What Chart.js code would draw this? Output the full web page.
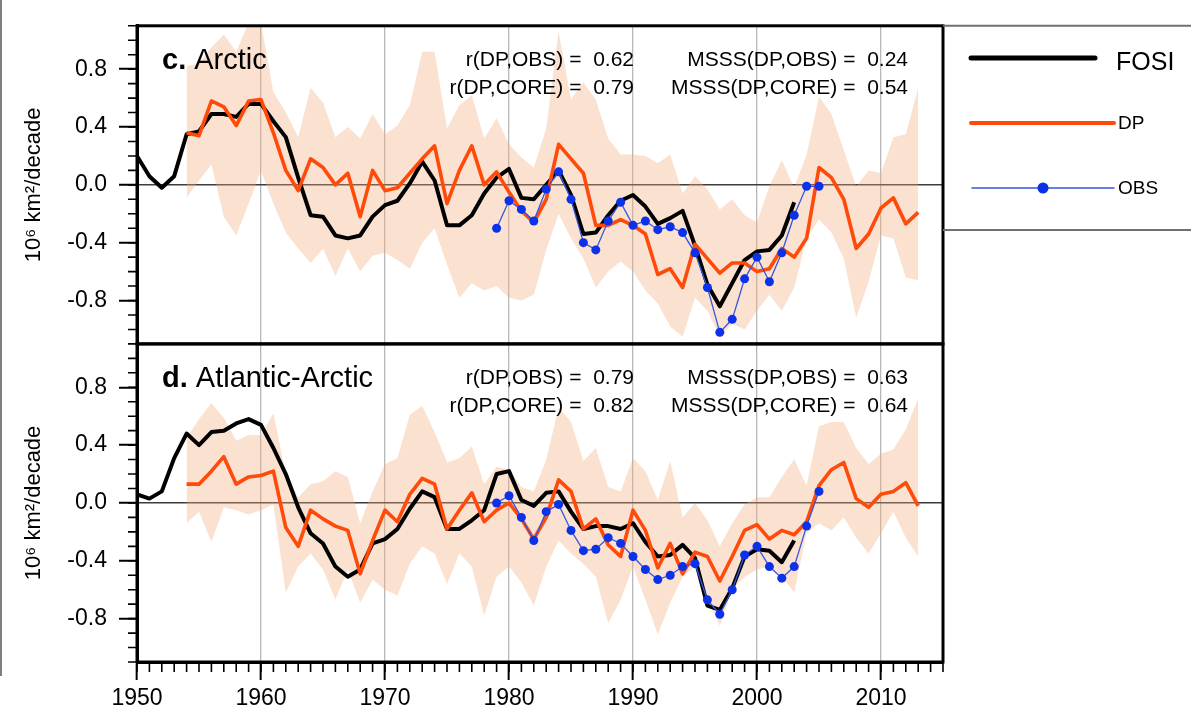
<!DOCTYPE html>
<html lang="en">
	<head>
		<meta charset="UTF-8" />
		<title>Arctic sea ice trends: FOSI, DP, OBS</title>
		<script src="https://cdn.jsdelivr.net/npm/chart.js"></script>
		<style>
			html,
			body {
				margin: 0;
				padding: 0;
				background: #fff;
			}
			#wrap {
				position: relative;
				width: 1191px;
				height: 719px;
			}
		</style>
	</head>
	<body>
		<div id="wrap"><canvas id="myChart" width="1191" height="719"></canvas></div>

		<script>
			// years 1950 .. 2013, every series below is aligned on this list
			const years = [
				1950, 1951, 1952, 1953, 1954, 1955, 1956, 1957, 1958, 1959, 1960, 1961, 1962, 1963, 1964, 1965,
				1966, 1967, 1968, 1969, 1970, 1971, 1972, 1973, 1974, 1975, 1976, 1977, 1978, 1979, 1980, 1981,
				1982, 1983, 1984, 1985, 1986, 1987, 1988, 1989, 1990, 1991, 1992, 1993, 1994, 1995, 1996, 1997,
				1998, 1999, 2000, 2001, 2002, 2003, 2004, 2005, 2006, 2007, 2008, 2009, 2010, 2011, 2012, 2013,
			];
			const xTicks = [1950, 1960, 1970, 1980, 1990, 2000, 2010];
			const yTicks = [-0.8, -0.4, 0, 0.4, 0.8];
			const seriesNames = ["FOSI", "DP", "OBS"];

			// c. Arctic
			const arcticFOSI = [
				0.2, 0.06, -0.02, 0.06, 0.35, 0.37, 0.49, 0.49, 0.47, 0.56, 0.56, 0.44, 0.33, 0.05, -0.21, -0.22,
				-0.35, -0.37, -0.35, -0.22, -0.14, -0.11, 0.01, 0.16, 0.03, -0.28, -0.28, -0.21, -0.06, 0.05, 0.11, -0.09,
				-0.1, 0.0, 0.1, -0.07, -0.34, -0.33, -0.21, -0.11, -0.07, -0.15, -0.27, -0.23, -0.18, -0.42, -0.69, -0.84,
				-0.68, -0.52, -0.46, -0.45, -0.35, -0.12, null, null, null, null, null, null, null, null, null, null,
			];
			const arcticDP = [
				null, null, null, null, 0.36, 0.34, 0.58, 0.54, 0.41, 0.58, 0.59, 0.36, 0.1, -0.04, 0.18, 0.12,
				0.0, 0.08, -0.22, 0.1, -0.04, -0.02, 0.08, 0.18, 0.27, -0.13, 0.1, 0.27, 0.0, 0.09, -0.05, -0.18,
				-0.26, -0.1, 0.28, 0.18, 0.08, -0.28, -0.28, -0.24, -0.28, -0.34, -0.62, -0.58, -0.71, -0.41, -0.51, -0.61,
				-0.54, -0.54, -0.6, -0.58, -0.44, -0.5, -0.37, 0.12, 0.05, -0.1, -0.44, -0.34, -0.16, -0.09, -0.27, -0.19,
			];
			const arcticOBS = [
				null, null, null, null, null, null, null, null, null, null, null, null, null, null, null, null,
				null, null, null, null, null, null, null, null, null, null, null, null, null, -0.3, -0.11, -0.17,
				-0.25, -0.03, 0.09, -0.1, -0.4, -0.45, -0.25, -0.12, -0.28, -0.25, -0.31, -0.29, -0.33, -0.47, -0.71, -1.02,
				-0.93, -0.65, -0.5, -0.67, -0.47, -0.21, -0.01, -0.01, null, null, null, null, null, null, null, null,
			];
			const arcticSpreadLow = [
				null, null, null, null, -0.09, 0.03, 0.14, -0.22, -0.35, -0.13, 0.1, -0.13, -0.33, -0.44, -0.54, -0.44,
				-0.63, -0.44, -0.6, -0.49, -0.47, -0.52, -0.58, -0.4, -0.3, -0.55, -0.78, -0.68, -0.73, -0.7, -0.78, -0.8,
				-0.76, -0.45, -0.2, -0.37, -0.51, -0.71, -0.6, -0.53, -0.6, -0.73, -0.82, -0.98, -1.05, -0.78, -0.87, -1.05,
				-0.96, -1.0, -0.87, -0.76, -0.87, -0.71, -0.37, -0.24, -0.33, -0.51, -0.92, -0.67, -0.35, -0.37, -0.64, -0.66,
			];
			const arcticSpreadHigh = [
				null, null, null, null, 0.82, 0.84, 0.95, 1.04, 0.92, 1.12, 1.12, 0.64, 0.5, 0.33, 0.67, 0.57,
				0.33, 0.4, 0.32, 0.49, 0.35, 0.41, 0.55, 0.92, 0.92, 0.39, 0.55, 0.62, 0.32, 0.46, 0.28, 0.19,
				0.12, 0.39, 1.06, 0.59, 0.71, 0.59, 0.32, 0.21, 0.21, 0.2, 0.15, 0.21, -0.06, 0.06, -0.03, -0.17,
				-0.1, -0.21, -0.26, -0.01, 0.17, -0.02, 0.21, 0.61, 0.49, 0.24, -0.01, 0.1, 0.08, 0.33, 0.35, 0.67,
			];

			// d. Atlantic-Arctic
			const atlanticFOSI = [
				0.06, 0.03, 0.08, 0.31, 0.48, 0.4, 0.49, 0.5, 0.55, 0.58, 0.54, 0.38, 0.2, -0.03, -0.21, -0.28,
				-0.44, -0.51, -0.46, -0.28, -0.25, -0.18, -0.04, 0.08, 0.04, -0.18, -0.18, -0.12, -0.05, 0.2, 0.22, 0.02,
				-0.02, 0.07, 0.08, -0.06, -0.18, -0.16, -0.16, -0.18, -0.14, -0.27, -0.37, -0.36, -0.29, -0.38, -0.71, -0.74,
				-0.59, -0.37, -0.32, -0.33, -0.41, -0.26, null, null, null, null, null, null, null, null, null, null,
			];
			const atlanticDP = [
				null, null, null, null, 0.13, 0.13, 0.22, 0.32, 0.13, 0.18, 0.19, 0.22, -0.17, -0.3, -0.05, -0.11,
				-0.16, -0.19, -0.49, -0.26, -0.05, -0.13, 0.06, 0.17, 0.13, -0.18, -0.05, 0.07, -0.13, -0.05, 0.0, -0.11,
				-0.25, -0.1, 0.16, 0.08, -0.18, -0.11, -0.29, -0.37, -0.05, -0.19, -0.45, -0.28, -0.49, -0.34, -0.37, -0.54,
				-0.37, -0.19, -0.15, -0.25, -0.19, -0.22, -0.13, 0.12, 0.23, 0.28, 0.03, -0.03, 0.06, 0.08, 0.14, -0.02,
			];
			const atlanticOBS = [
				null, null, null, null, null, null, null, null, null, null, null, null, null, null, null, null,
				null, null, null, null, null, null, null, null, null, null, null, null, null, 0.0, 0.05, -0.1,
				-0.26, -0.06, -0.01, -0.19, -0.33, -0.32, -0.24, -0.28, -0.37, -0.46, -0.53, -0.5, -0.44, -0.42, -0.67, -0.77,
				-0.6, -0.36, -0.3, -0.44, -0.52, -0.44, -0.16, 0.08, null, null, null, null, null, null, null, null,
			];
			const atlanticSpreadLow = [
				null, null, null, null, -0.14, -0.06, -0.27, -0.03, -0.05, -0.08, -0.05, -0.01, -0.62, -0.44, -0.35, -0.46,
				-0.67, -0.46, -0.69, -0.53, -0.6, -0.64, -0.42, -0.3, -0.35, -0.56, -0.35, -0.44, -0.78, -0.51, -0.44, -0.55,
				-0.71, -0.44, -0.26, -0.35, -0.42, -0.51, -0.83, -0.67, -0.44, -0.67, -0.91, -0.69, -0.51, -0.44, -0.67, -0.85,
				-0.6, -0.51, -0.46, -0.44, -0.51, -0.62, -0.21, -0.14, -0.19, -0.1, -0.24, -0.35, -0.21, -0.06, -0.24, -0.37,
			];
			const atlanticSpreadHigh = [
				null, null, null, null, 0.45, 0.58, 0.69, 0.59, 0.43, 0.47, 0.47, 0.62, 0.2, 0.04, 0.13, 0.15,
				0.22, 0.18, -0.14, 0.08, 0.27, 0.31, 0.61, 0.67, 0.49, 0.28, 0.31, 0.39, 0.13, 0.25, 0.23, 0.11,
				0.08, 0.3, 0.66, 0.56, 0.29, 0.38, 0.11, 0.08, 0.31, 0.22, 0.02, 0.29, -0.1, 0.0, -0.12, -0.3,
				-0.14, -0.01, 0.04, 0.04, 0.18, 0.3, 0.12, 0.53, 0.56, 0.56, 0.38, 0.27, 0.34, 0.37, 0.51, 0.72,
			];

			const panelTitles = [
				["c.", " Arctic"],
				["d.", " Atlantic-Arctic"],
			];
			const corrLabels = [
				["r(DP,OBS) =  0.62", "r(DP,CORE) =  0.79"],
				["r(DP,OBS) =  0.79", "r(DP,CORE) =  0.82"],
			];
			const msssLabels = [
				["MSSS(DP,OBS) =  0.24", "MSSS(DP,CORE) =  0.54"],
				["MSSS(DP,OBS) =  0.63", "MSSS(DP,CORE) =  0.64"],
			];

			const FONT = '"Liberation Sans", Arial, Helvetica, sans-serif';
			const SHADE = "rgba(240, 170, 120, 0.35)";
			const DP_COLOR = "#ff4a0a";
			const OBS_LINE = "#3456e0";
			const OBS_DOT = "#0b32e8";

			Chart.defaults.font.family = FONT;
			Chart.defaults.color = "#000";

			function pts(values) {
				return years.map((yr, i) => ({ x: yr, y: values[i] }));
			}

			function panelDatasets(axis, fosi, dp, obs, low, high) {
				return [
					{ label: "low", data: pts(low), yAxisID: axis, borderWidth: 0, pointRadius: 0, fill: false, order: 10 },
					{ label: "spread", data: pts(high), yAxisID: axis, borderWidth: 0, pointRadius: 0, fill: "-1", backgroundColor: SHADE, order: 9 },
					{ label: seriesNames[0], data: pts(fosi), yAxisID: axis, borderColor: "#000", borderWidth: 4, pointRadius: 0, borderJoinStyle: "round", fill: false, order: 3 },
					{ label: seriesNames[1], data: pts(dp), yAxisID: axis, borderColor: DP_COLOR, borderWidth: 3.6, pointRadius: 0, borderJoinStyle: "round", fill: false, order: 2 },
					{
						label: seriesNames[2], data: pts(obs), yAxisID: axis, borderColor: OBS_LINE, borderWidth: 1.3,
						pointRadius: 4.5, pointHoverRadius: 4.5, pointBackgroundColor: OBS_DOT, pointBorderWidth: 0, fill: false, order: 1,
					},
				];
			}

			function yAxis() {
				return {
					type: "linear",
					position: "left",
					stack: "panels",
					stackWeight: 1,
					min: -1.1,
					max: 1.1,
					afterBuildTicks: (s) => {
						s.ticks = yTicks.map((v) => ({ value: v }));
					},
					afterFit: (s) => {
						s.width = 137;
					},
					grid: {
						color: (c) => (c.tick && c.tick.value === 0 ? "#3c3c3c" : "rgba(0,0,0,0)"),
						lineWidth: 1.5,
						tickColor: "#000",
						tickLength: 18,
						tickWidth: 2,
					},
					border: { color: "#000", width: 3 },
					ticks: { font: { size: 23 }, color: "#000", padding: 12, callback: (v) => v.toFixed(1) },
					title: { display: true, text: "10⁶ km²/decade", font: { size: 22 }, color: "#000", padding: { top: 21, bottom: 0 } },
				};
			}

			const decorations = {
				id: "decorations",
				afterDatasetsDraw(chart) {
					const { ctx, chartArea, scales } = chart;
					ctx.save();
					ctx.strokeStyle = "#000";
					ctx.lineWidth = 3;
					["yc", "yd"].forEach((id) => {
						const s = scales[id];
						ctx.strokeRect(chartArea.left, s.top, chartArea.right - chartArea.left, s.bottom - s.top);
					});
					ctx.restore();
				},
				afterDraw(chart) {
					const { ctx, chartArea, scales } = chart;
					const x = scales.x;
					ctx.save();

					// minor ticks
					ctx.strokeStyle = "#000";
					ctx.lineWidth = 1.6;
					ctx.beginPath();
					for (let yr = 1950; yr <= 2015; yr++) {
						const px = x.getPixelForValue(yr);
						ctx.moveTo(px, chartArea.bottom);
						ctx.lineTo(px, chartArea.bottom + 10);
					}
					["yc", "yd"].forEach((id) => {
						const s = scales[id];
						for (let k = -11; k <= 11; k++) {
							const py = s.getPixelForValue(k / 10);
							ctx.moveTo(chartArea.left - 9, py);
							ctx.lineTo(chartArea.left, py);
						}
					});
					ctx.stroke();

					// panel titles and skill scores
					["yc", "yd"].forEach((id, p) => {
						const s = scales[id];
						ctx.fillStyle = "#000";
						ctx.textBaseline = "middle";
						ctx.textAlign = "left";
						ctx.font = "bold 29px " + FONT;
						const tx = chartArea.left + 25;
						ctx.fillText(panelTitles[p][0], tx, s.top + 35);
						const w = ctx.measureText(panelTitles[p][0]).width;
						ctx.font = "29px " + FONT;
						ctx.fillText(panelTitles[p][1], tx + w, s.top + 35);

						ctx.font = "21px " + FONT;
						ctx.textAlign = "right";
						ctx.fillText(corrLabels[p][0], chartArea.left + 497, s.top + 34);
						ctx.fillText(corrLabels[p][1], chartArea.left + 497, s.top + 62);
						ctx.fillText(msssLabels[p][0], chartArea.left + 771, s.top + 34);
						ctx.fillText(msssLabels[p][1], chartArea.left + 771, s.top + 62);
					});

					// legend box on the right
					const lx = chartArea.right;
					ctx.strokeStyle = "#707070";
					ctx.lineWidth = 2;
					ctx.beginPath();
					ctx.moveTo(lx, chartArea.top);
					ctx.lineTo(chart.width, chartArea.top);
					ctx.moveTo(lx, 230);
					ctx.lineTo(chart.width, 230);
					ctx.stroke();

					ctx.lineCap = "round";
					ctx.textAlign = "left";
					ctx.textBaseline = "middle";

					ctx.strokeStyle = "#000";
					ctx.lineWidth = 5;
					ctx.beginPath();
					ctx.moveTo(971, 58);
					ctx.lineTo(1095, 58);
					ctx.stroke();
					ctx.font = "25px " + FONT;
					ctx.fillText(seriesNames[0], 1116, 63);

					ctx.strokeStyle = DP_COLOR;
					ctx.lineWidth = 4;
					ctx.beginPath();
					ctx.moveTo(971, 123);
					ctx.lineTo(1114, 123);
					ctx.stroke();
					ctx.font = "19px " + FONT;
					ctx.fillText(seriesNames[1], 1118, 124);

					ctx.strokeStyle = OBS_LINE;
					ctx.lineWidth = 1.5;
					ctx.beginPath();
					ctx.moveTo(972, 188);
					ctx.lineTo(1114, 188);
					ctx.stroke();
					ctx.fillStyle = OBS_DOT;
					ctx.beginPath();
					ctx.arc(1043, 188, 5.5, 0, Math.PI * 2);
					ctx.fill();
					ctx.fillStyle = "#000";
					ctx.fillText(seriesNames[2], 1118, 189);

					// thin edge line on the far left
					ctx.strokeStyle = "#555";
					ctx.lineWidth = 1.5;
					ctx.lineCap = "butt";
					ctx.beginPath();
					ctx.moveTo(1, 0);
					ctx.lineTo(1, 676);
					ctx.stroke();

					ctx.restore();
				},
			};

			new Chart(document.getElementById("myChart"), {
				type: "line",
				data: {
					datasets: [
						...panelDatasets("yc", arcticFOSI, arcticDP, arcticOBS, arcticSpreadLow, arcticSpreadHigh),
						...panelDatasets("yd", atlanticFOSI, atlanticDP, atlanticOBS, atlanticSpreadLow, atlanticSpreadHigh),
					],
				},
				options: {
					responsive: false,
					animation: false,
					devicePixelRatio: 1,
					layout: { padding: { top: 15, right: 248, bottom: 0, left: 0 } },
					elements: { line: { tension: 0 } },
					plugins: { legend: { display: false }, tooltip: { enabled: false } },
					scales: {
						x: {
							type: "linear",
							position: "bottom",
							min: 1950,
							max: 2015,
							afterBuildTicks: (s) => {
								s.ticks = xTicks.map((v) => ({ value: v }));
							},
							afterFit: (s) => {
								s.height = 57;
							},
							grid: { color: "#b8b8b8", lineWidth: 1.3, tickColor: "#000", tickLength: 18, tickWidth: 2 },
							border: { color: "#000", width: 3 },
							ticks: { font: { size: 23 }, color: "#000", padding: 5, maxRotation: 0, autoSkip: false, callback: (v) => String(v) },
						},
						// stacked boxes are laid out bottom-up, so the lower panel comes first
						yd: yAxis(),
						yc: yAxis(),
					},
				},
				plugins: [decorations],
			});
		</script>
	</body>
</html>
